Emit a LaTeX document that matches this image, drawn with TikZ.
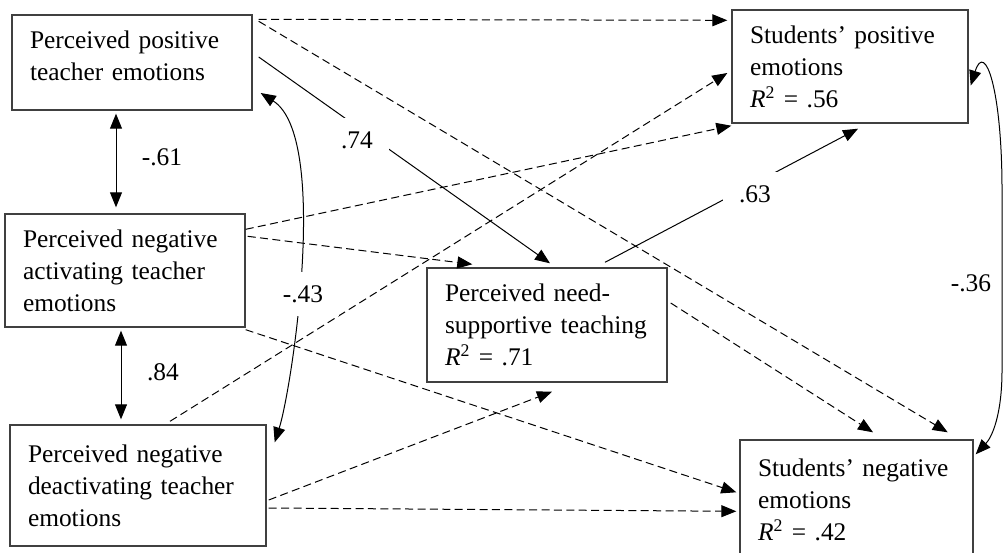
\documentclass[tikz,border=0pt]{standalone}
\usepackage{fontspec}
\setmainfont{Liberation Serif}
\usetikzlibrary{arrows.meta}

\tikzset{
  varbox/.style={draw=black!75,line width=0.7pt,inner xsep=9pt,inner ysep=0pt,align=left},
  sig/.style={line width=0.5pt,-{Triangle[length=7.5pt,width=6pt]}},
  ns/.style={sig,dash pattern=on 4pt off 2.2pt},
  corr/.style={line width=0.5pt,{Triangle[length=7.5pt,width=6pt]}-{Triangle[length=7.5pt,width=6pt]}},
  coef/.style={fill=white,inner xsep=8pt,inner ysep=6.5pt}
}

\begin{document}
\begin{tikzpicture}[x=0.5pt,y=-0.5pt,font=\fontsize{12.7}{16}\selectfont]
\useasboundingbox (0,0) rectangle (1004,552);
\clip (0,0) rectangle (1004,552);
\fill[white] (0,0) rectangle (1004,552);

% variables
\node[varbox,text width=102pt,minimum height=47.5pt] (pte) at (132,62.5) {Perceived positive\\teacher emotions\rule[-7pt]{0pt}{0pt}};
\node[varbox,text width=102pt,minimum height=56.5pt] (nate) at (125,270.5) {Perceived negative\\activating teacher\\emotions};
\node[varbox,text width=110pt,minimum height=60.5pt] (ndte) at (138,485.5) {Perceived negative\\deactivating teacher\\emotions};
\node[varbox,text width=102pt,minimum height=57pt] (nst) at (547,325) {Perceived need-\\supportive teaching\\\textit{R}\textsuperscript{2} = .71};
\node[varbox,text width=100pt,minimum height=56.5pt] (spe) at (850,66.5) {Students’ positive\\emotions\\\textit{R}\textsuperscript{2} = .56};
\node[varbox,text width=98.5pt,minimum height=60pt] (sne) at (856.5,500) {Students’ negative\\emotions\\\textit{R}\textsuperscript{2} = .42};

% non-significant paths
\draw[ns] ([shift={(6,5)}]pte.north east) -- ([shift={(-4,11)}]spe.north west);
\draw[ns] ([shift={(6,7)}]pte.north east) -- ([shift={(-26,-7)}]sne.north east);
\draw[ns] ([shift={(0,16)}]nate.north east) -- ([shift={(0,2)}]spe.south west);
\draw[ns] ([shift={(2,23)}]nate.north east) -- ([shift={(46,-3)}]nst.north west);
\draw[ns] ([shift={(0,2)}]nate.south east) -- ([shift={(-3,53)}]sne.north west);
\draw[ns] ([shift={(32,-3)}]ndte.north) -- ([shift={(-4,6.5)}]spe.west);
\draw[ns] ([shift={(2,14.5)}]ndte.east) -- ([shift={(5,9)}]nst.south);
\draw[ns] ([shift={(2,22.5)}]ndte.east) -- ([shift={(-3,72)}]sne.north west);
\draw[ns] ([shift={(3,-22)}]nst.east) -- ([shift={(16.5,-7)}]sne.north);

% significant paths
\draw[sig] ([shift={(6,-5.5)}]pte.east) -- ([shift={(3,-4)}]nst.north);
\draw[sig] ([shift={(58,-5)}]nst.north) -- ([shift={(8,5)}]spe.south);

% correlations
\draw[corr] ([shift={(-16,3)}]pte.south) -- ([shift={(-9,-6)}]nate.north);
\draw[corr] ([shift={(-4,3)}]nate.south) -- ([shift={(-17,-5)}]ndte.north);
\draw[corr] ([shift={(8,30.5)}]pte.east) .. controls (330,137) and (292,388) .. ([shift={(8,18)}]ndte.north east);
\draw[corr] ([shift={(2,19)}]spe.east) .. controls (985,40) and (1002,90) .. (1002,190) -- (1002,370) .. controls (1002,415) and (992,437) .. ([shift={(2,15)}]sne.north east);

% coefficients
\node[coef] (c74) at (357,140) {.74};
\node[coef] (c63) at (755,194) {.63};
\node[coef] (c43) at (303,294) {-.43};
\node (c61) at (162,157) {-.61};
\node (c84) at (163,372) {.84};
\node (c36) at (971,283) {-.36};
\end{tikzpicture}
\end{document}
